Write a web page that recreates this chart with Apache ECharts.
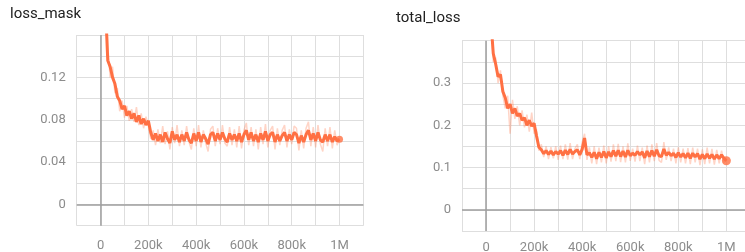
<!DOCTYPE html>
<html>
<head>
<meta charset="utf-8">
<script src="https://cdn.jsdelivr.net/npm/echarts@6/dist/echarts.min.js"></script>
<style>
	html, body { margin: 0; padding: 0; background: #fff; }
	#chart { width: 745px; height: 252px; }
</style>
</head>
<body>
<div id="chart"></div>
<script type="text/javascript">
	// steps, in thousands
	var steps = [20,30,40,50,60,70,80,90,100,110,120,130,140,150,160,170,180,190,200,
		210,220,230,240,250,260,270,280,290,300,310,320,330,340,350,360,370,380,390,400,
		410,420,430,440,450,460,470,480,490,500,510,520,530,540,550,560,570,580,590,600,
		610,620,630,640,650,660,670,680,690,700,710,720,730,740,750,760,770,780,790,800,
		810,820,830,840,850,860,870,880,890,900,910,920,930,940,950,960,970,980,990,1000];

	// loss_mask: smoothed and raw
	var maskSmooth = [0.19,0.136,0.13,0.12,0.114,0.102,0.098,0.09,0.093,0.084,0.088,0.081,0.086,0.078,0.084,0.076,0.081,0.075,0.079,
		0.068,0.061,0.067,0.060,0.066,0.059,0.068,0.062,0.058,0.069,0.061,0.066,0.059,0.066,0.060,0.068,0.061,0.058,0.067,0.060,
		0.068,0.059,0.066,0.062,0.057,0.066,0.068,0.060,0.067,0.061,0.068,0.062,0.059,0.067,0.061,0.066,0.060,0.067,0.059,0.066,
		0.070,0.061,0.068,0.060,0.066,0.059,0.067,0.061,0.069,0.060,0.066,0.068,0.059,0.066,0.060,0.065,0.068,0.060,0.066,0.061,
		0.068,0.066,0.058,0.065,0.059,0.066,0.070,0.061,0.067,0.060,0.068,0.061,0.059,0.066,0.060,0.066,0.059,0.064,0.060,0.0615];
	var maskRaw = [0.21,0.15,0.12,0.13,0.105,0.11,0.088,0.098,0.082,0.093,0.079,0.09,0.078,0.092,0.075,0.086,0.072,0.083,0.074,
		0.062,0.07,0.056,0.071,0.058,0.074,0.057,0.069,0.052,0.073,0.058,0.075,0.055,0.07,0.056,0.074,0.059,0.052,0.072,0.055,
		0.075,0.054,0.07,0.058,0.05,0.071,0.074,0.055,0.072,0.057,0.075,0.058,0.055,0.073,0.056,0.071,0.054,0.074,0.053,0.07,
		0.077,0.056,0.073,0.055,0.071,0.052,0.073,0.057,0.076,0.054,0.07,0.074,0.052,0.072,0.056,0.07,0.075,0.054,0.071,0.057,
		0.074,0.072,0.051,0.07,0.053,0.072,0.078,0.055,0.073,0.054,0.075,0.057,0.05,0.072,0.055,0.073,0.053,0.07,0.056,0.062];

	// total_loss: smoothed and raw
	var totalSmooth = [0.45,0.37,0.345,0.315,0.32,0.28,0.265,0.24,0.25,0.228,0.24,0.222,0.228,0.212,0.218,0.2,0.212,0.198,0.205,
		0.175,0.148,0.142,0.133,0.14,0.131,0.139,0.13,0.138,0.132,0.14,0.129,0.141,0.131,0.143,0.132,0.138,0.142,0.13,0.143,
		0.17,0.13,0.135,0.124,0.136,0.121,0.136,0.124,0.138,0.123,0.137,0.126,0.14,0.127,0.141,0.126,0.139,0.125,0.141,0.128,
		0.134,0.129,0.138,0.13,0.137,0.123,0.139,0.126,0.14,0.127,0.142,0.128,0.126,0.144,0.129,0.136,0.128,0.134,0.124,0.135,
		0.125,0.133,0.123,0.134,0.122,0.134,0.125,0.133,0.12,0.131,0.121,0.132,0.122,0.131,0.12,0.13,0.121,0.13,0.122,0.116];
	var totalRaw = [0.47,0.35,0.36,0.30,0.33,0.27,0.24,0.27,0.18,0.26,0.215,0.245,0.2,0.235,0.195,0.225,0.185,0.23,0.18,
		0.19,0.14,0.155,0.125,0.15,0.12,0.148,0.122,0.15,0.118,0.152,0.12,0.155,0.119,0.158,0.12,0.145,0.155,0.12,0.16,
		0.18,0.118,0.148,0.11,0.15,0.108,0.147,0.112,0.152,0.11,0.15,0.114,0.155,0.115,0.156,0.113,0.15,0.112,0.157,0.116,
		0.145,0.114,0.152,0.115,0.147,0.108,0.152,0.112,0.155,0.115,0.158,0.117,0.112,0.16,0.118,0.148,0.115,0.145,0.11,0.148,
		0.112,0.145,0.11,0.146,0.108,0.147,0.112,0.145,0.106,0.143,0.108,0.147,0.11,0.144,0.107,0.142,0.11,0.14,0.112,0.118];

	var xTicks = [0, 200, 400, 600, 800, 1000];
	var maskTicks = [0, 0.04, 0.08, 0.12];
	var totalTicks = [0, 0.1, 0.2, 0.3];

	var orange = '#ff7043';
	var gridColor = '#dedede';
	var zeroColor = '#9e9e9e';
	var labelColor = '#8c8c8c';

	function pairs(ys) {
		var out = [];
		for (var i = 0; i < steps.length; i++) out.push([steps[i], ys[i]]);
		return out;
	}

	function xAxisFor(idx, margin) {
		return {
			type: 'value', gridIndex: idx, min: -100, max: 1100, interval: 100,
			axisLine: {show: false},
			axisTick: {show: true, length: 5, lineStyle: {color: gridColor}},
			splitLine: {show: true, lineStyle: {color: gridColor, width: 1}},
			axisLabel: {
				margin: margin, color: labelColor, fontSize: 13, fontFamily: 'Roboto',
				hideOverlap: false, showMinLabel: true, showMaxLabel: true,
				formatter: function (v) {
					var k = Math.round(v);
					if (xTicks.indexOf(k) < 0) return '';
					if (k === 0) return '0';
					if (k === 1000) return '1M';
					return k + 'k';
				}
			}
		};
	}

	function yAxisFor(idx, min, max, interval, ticks) {
		return {
			type: 'value', gridIndex: idx, min: min, max: max, interval: interval,
			axisLine: {show: false},
			axisTick: {show: true, length: 5, lineStyle: {color: gridColor}},
			splitLine: {show: true, lineStyle: {color: gridColor, width: 1}},
			axisLabel: {
				margin: 11, color: labelColor, fontSize: 13, fontFamily: 'Roboto',
				hideOverlap: false,
				formatter: function (v) {
					var r = Math.round(v * 100) / 100;
					for (var i = 0; i < ticks.length; i++) {
						if (Math.abs(ticks[i] - r) < 1e-6) return String(ticks[i]);
					}
					return '';
				}
			}
		};
	}

	function zeroLines() {
		return {
			silent: true, symbol: ['none', 'none'], animation: false,
			label: {show: false},
			lineStyle: {color: zeroColor, width: 1.5, type: 'solid'},
			data: [{xAxis: 0}, {yAxis: 0}]
		};
	}

	var myChart = echarts.init(document.getElementById('chart'), null, {renderer: 'canvas'});
	var option = {
		animation: false,
		title: [
			{text: 'loss_mask', left: 10, top: 7, padding: 0,
				textStyle: {fontSize: 15, fontWeight: 'normal', color: '#212121', fontFamily: 'Roboto'}},
			{text: 'total_loss', left: 396, top: 11, padding: 0,
				textStyle: {fontSize: 15, fontWeight: 'normal', color: '#212121', fontFamily: 'Roboto'}}
		],
		grid: [
			{left: 76.7, top: 35, width: 286.7, height: 190.7, outerBoundsMode: 'none'},
			{left: 462, top: 40.7, width: 288.4, height: 190.3, outerBoundsMode: 'none'}
		],
		xAxis: [xAxisFor(0, 14), xAxisFor(1, 10)],
		yAxis: [
			yAxisFor(0, -0.02, 0.16, 0.02, maskTicks),
			yAxisFor(1, -0.05, 0.4, 0.05, totalTicks)
		],
		series: [
			{
				type: 'line', xAxisIndex: 0, yAxisIndex: 0, data: pairs(maskRaw),
				showSymbol: false, clip: true,
				lineStyle: {color: orange, width: 1.5, opacity: 0.3},
				markLine: zeroLines()
			},
			{
				type: 'line', xAxisIndex: 0, yAxisIndex: 0, data: pairs(maskSmooth),
				showSymbol: false, clip: true,
				lineStyle: {color: orange, width: 3}
			},
			{
				type: 'scatter', xAxisIndex: 0, yAxisIndex: 0, symbolSize: 7,
				itemStyle: {color: orange},
				data: [[steps[steps.length - 1], maskSmooth[maskSmooth.length - 1]]]
			},
			{
				type: 'line', xAxisIndex: 1, yAxisIndex: 1, data: pairs(totalRaw),
				showSymbol: false, clip: true,
				lineStyle: {color: orange, width: 1.5, opacity: 0.3},
				markLine: zeroLines()
			},
			{
				type: 'line', xAxisIndex: 1, yAxisIndex: 1, data: pairs(totalSmooth),
				showSymbol: false, clip: true,
				lineStyle: {color: orange, width: 3}
			},
			{
				type: 'scatter', xAxisIndex: 1, yAxisIndex: 1, symbolSize: 9,
				itemStyle: {color: orange},
				data: [[steps[steps.length - 1], totalSmooth[totalSmooth.length - 1]]]
			}
		]
	};
	myChart.setOption(option);
</script>
</body>
</html>
